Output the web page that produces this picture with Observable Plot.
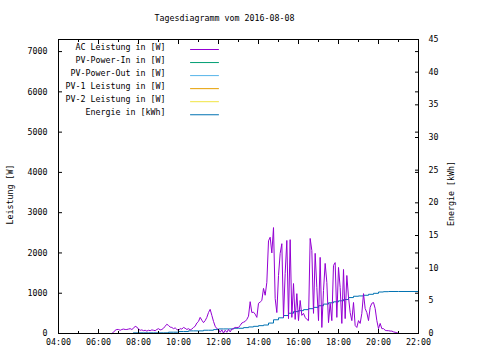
<!DOCTYPE html>
<html><head><meta charset="utf-8">
<script src="https://cdn.jsdelivr.net/npm/d3@7"></script>
<script src="https://cdn.jsdelivr.net/npm/@observablehq/plot@0.6"></script>
<style>body{margin:0;background:#fff}</style>
</head><body><div id="chart"></div>
<script>
const title = "Tagesdiagramm vom 2016-08-08";
const leftLabel = "Leistung [W]";
const rightLabel = "Energie [kWh]";
const legendLabels = ["AC Leistung in [W]","PV-Power-In in [W]","PV-Power-Out in [W]","PV-1 Leistung in [W]","PV-2 Leistung in [W]","Energie in [kWh]"];
const legendColors = ["#9400d3","#009e73","#56b4e9","#e69f00","#f0e442","#0072b2"];
const xTicks = [4,6,8,10,12,14,16,18,20,22];
const xMinorTicks = [5,7,9,11,13,15,17,19,21];
const yTicks = [0,1000,2000,3000,4000,5000,6000,7000];
const y2Ticks = [0,5,10,15,20,25,30,35,40,45];
const yMax = 7300, y2Max = 45;

const acTime = ["06:40","06:45","06:50","06:55","07:00","07:05","07:10","07:15","07:20","07:25","07:30","07:35","07:40","07:45","07:50","07:55",
"08:00","08:05","08:10","08:15","08:20","08:25","08:30","08:35","08:40","08:45","08:50","08:55",
"09:00","09:05","09:10","09:15","09:20","09:25","09:30","09:35","09:40","09:45","09:50","09:55",
"10:00","10:05","10:10","10:15","10:20","10:25","10:30","10:35","10:40","10:45","10:50","10:55",
"11:00","11:05","11:10","11:15","11:20","11:25","11:30","11:35","11:40","11:45","11:50","11:55",
"12:00","12:05","12:10","12:15","12:20","12:25","12:30","12:35","12:40","12:45","12:50","12:55",
"13:00","13:05","13:10","13:15","13:20","13:25","13:30","13:35","13:40","13:45","13:50","13:55",
"14:00","14:05","14:10","14:15","14:20","14:25","14:30","14:35","14:40","14:45","14:50","14:55",
"15:00","15:05","15:10","15:15","15:20","15:25","15:30","15:35","15:40","15:45","15:50","15:55",
"16:00","16:05","16:10","16:15","16:20","16:25","16:30","16:35","16:40","16:45","16:50","16:55",
"17:00","17:05","17:10","17:15","17:20","17:25","17:30","17:35","17:40","17:45","17:50","17:55",
"18:00","18:05","18:10","18:15","18:20","18:25","18:30","18:35","18:40","18:45","18:50","18:55",
"19:00","19:05","19:10","19:15","19:20","19:25","19:30","19:35","19:40","19:45","19:50","19:55",
"20:00","20:05","20:10","20:15","20:20","20:25","20:30","20:35","20:40","20:45","20:50","20:55","21:00"];
const acPower = [0,30,80,100,100,80,100,110,100,100,110,120,100,130,180,160,
110,80,90,70,80,60,80,70,90,80,70,100,
120,90,100,130,180,230,200,160,150,120,140,100,
80,120,110,150,130,100,120,90,110,150,180,260,
300,400,330,270,320,400,520,600,450,300,180,120,
100,30,90,10,80,30,100,40,110,120,150,150,
150,200,260,280,300,350,430,790,520,530,480,400,
750,780,820,1120,950,1270,2300,2390,2000,2630,870,520,
1440,1990,2230,400,1490,2310,370,2330,400,1240,350,990,
320,820,450,500,400,350,320,2360,2060,500,1990,1140,
320,1890,150,1070,1740,1270,270,750,320,1690,1760,400,
1640,1140,250,1590,370,1440,900,520,320,770,200,150,
320,250,500,990,620,520,320,650,750,770,620,320,
120,250,120,120,80,70,70,60,60,40,30,20,0];

const enTime = ["07:45","08:00","08:15","08:30","08:45","09:00","09:15","09:30","09:45","10:00","10:15","10:30","10:45","11:00","11:15","11:30","11:45",
"12:00","12:15","12:30","12:45","13:00","13:15","13:30","13:45","14:00","14:15","14:30","14:45","15:00","15:15","15:30","15:45",
"16:00","16:15","16:30","16:45","17:00","17:15","17:30","17:45","18:00","18:15","18:30","18:45","19:00","19:15","19:30","19:45",
"20:00","20:15","20:30","21:00","22:00"];
const enKWh = [0.1,0.1,0.1,0.1,0.1,0.1,0.1,0.2,0.2,0.3,0.3,0.4,0.4,0.4,0.5,0.5,0.6,
0.7,0.7,0.7,0.8,0.8,0.9,1.0,1.1,1.2,1.3,1.6,2.1,2.4,2.75,3.1,3.35,
3.5,3.65,3.8,4.0,4.25,4.5,4.7,4.85,5.0,5.2,5.5,5.7,5.75,5.85,6.0,6.15,
6.35,6.4,6.43,6.43,6.43];

const toH = t => { const [h, m] = t.split(":").map(Number); return h + m / 60; };
const ratio = yMax / y2Max;
const acData = acTime.map((t, i) => ({h: toH(t), w: acPower[i]}));
const enData = enTime.map((t, i) => ({h: toH(t), e: enKWh[i]}));
const fmtH = d => String(d).padStart(2, "0") + ":00";

const legendMarks = legendLabels.flatMap((lab, i) => [
  Plot.text([lab], {frameAnchor: "top-left", dx: 107, dy: 8 + 13.05 * i, textAnchor: "end", lineAnchor: "middle", fill: "black"}),
  Plot.vector([0], {frameAnchor: "top-left", dx: 132, dy: 10 + 13.05 * i, length: 28, rotate: 90, anchor: "start", stroke: legendColors[i], strokeWidth: 1,
    shape: {draw(context, l) { context.moveTo(0, 0); context.lineTo(0, -l); }}})
]);

const chart = Plot.plot({
  width: 480, height: 360,
  marginLeft: 58, marginRight: 62, marginTop: 39, marginBottom: 27,
  style: {fontFamily: "'DejaVu Sans Mono', monospace", fontSize: "8.3px", background: "white", color: "black"},
  x: {domain: [4, 22]},
  y: {domain: [0, yMax]},
  marks: [
    Plot.line(enData, {x: "h", y: d => d.e * ratio, stroke: "#0072b2", strokeWidth: 1, curve: "step-after"}),
    Plot.line(acData, {x: "h", y: "w", stroke: "#9400d3", strokeWidth: 1}),
    // axis labels
    Plot.axisX(xTicks, {anchor: "bottom", tickSize: 0, tickPadding: 6, tickFormat: fmtH, label: null}),
    Plot.axisX(xTicks, {anchor: "bottom", tickSize: 4, dy: -4, fill: "none", label: null}),
    Plot.axisX(xMinorTicks, {anchor: "bottom", tickSize: 2, dy: -2, fill: "none", label: null}),
    Plot.axisX(xTicks, {anchor: "top", tickSize: 4, dy: 4, fill: "none", label: null}),
    Plot.axisX(xMinorTicks, {anchor: "top", tickSize: 2, dy: 2, fill: "none", label: null}),
    Plot.axisY(yTicks, {anchor: "left", tickSize: 0, tickPadding: 11, tickFormat: d => String(d), label: null}),
    Plot.axisY(yTicks, {anchor: "left", tickSize: 4, dx: 4, fill: "none", label: null}),
    Plot.axisY(yTicks, {anchor: "right", tickSize: 4, dx: -4, fill: "none", label: null}),
    Plot.axisY(y2Ticks.map(k => k * ratio), {anchor: "right", tickSize: 0, tickPadding: 10, tickFormat: v => String(Math.round(v / ratio)), label: null}),
    Plot.axisY(y2Ticks.map(k => k * ratio), {anchor: "right", tickSize: 4, dx: -4, fill: "none", label: null}),
    Plot.frame({stroke: "black", strokeWidth: 1}),
    Plot.text([title], {frameAnchor: "top", dx: -14, dy: -21, lineAnchor: "middle", fill: "black"}),
    Plot.text([leftLabel], {frameAnchor: "left", dx: -48, dy: 8, rotate: -90, lineAnchor: "middle", textAnchor: "middle", fill: "black"}),
    Plot.text([rightLabel], {frameAnchor: "right", dx: 33, dy: 7, rotate: -90, lineAnchor: "middle", textAnchor: "middle", fill: "black"}),
    ...legendMarks
  ]
});
document.getElementById("chart").append(chart);
</script>
</body></html>
